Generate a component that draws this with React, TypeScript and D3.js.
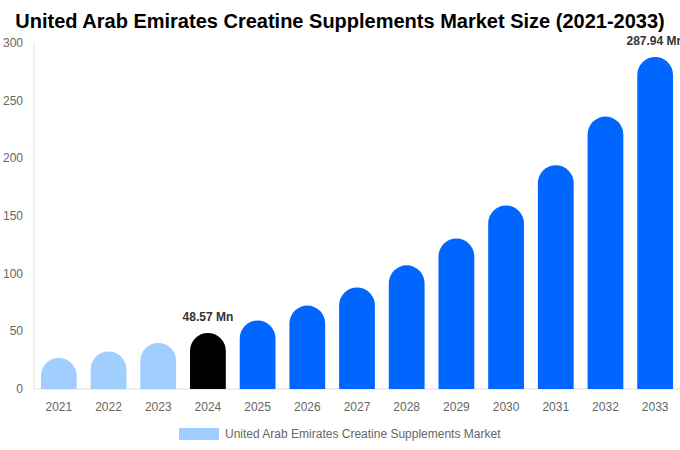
import { useEffect, useRef } from "react";
import * as d3 from "d3";

const years = ["2021", "2022", "2023", "2024", "2025", "2026", "2027", "2028", "2029", "2030", "2031", "2032", "2033"];
const marketSize = [26.9, 32.6, 39.9, 48.57, 59.4, 72.3, 88.0, 107.2, 130.5, 159.2, 194.0, 236.2, 287.94];
const yTicks = [0, 50, 100, 150, 200, 250, 300];
const labelled = ["2024", "2033"];

const title = "United Arab Emirates Creatine Supplements Market Size (2021-2033)";
const seriesName = "United Arab Emirates Creatine Supplements Market";

const barColor = (year: string) => {
  if (+year < 2024) return "#a0cfff";
  if (year === "2024") return "#000000";
  return "#0066ff";
};

export default function App() {
  const ref = useRef<SVGSVGElement | null>(null);

  useEffect(() => {
    const width = 680;
    const height = 450;
    const margin = { top: 43, right: 0, bottom: 61, left: 34 };
    const font = "'Liberation Sans', Arial, sans-serif";

    const svg = d3.select(ref.current);
    svg.selectAll("*").remove();

    const x = d3
      .scaleBand<string>()
      .domain(years)
      .range([margin.left, width - margin.right])
      .paddingInner(0.28)
      .paddingOuter(0.14);

    const y = d3
      .scaleLinear()
      .domain([0, 300])
      .range([height - margin.bottom, margin.top]);

    svg
      .append("text")
      .attr("x", width / 2)
      .attr("y", 28)
      .attr("text-anchor", "middle")
      .attr("font-family", font)
      .attr("font-size", 20)
      .attr("font-weight", "bold")
      .attr("fill", "#000")
      .text(title);

    // axis lines
    svg
      .append("line")
      .attr("x1", margin.left)
      .attr("x2", margin.left)
      .attr("y1", margin.top)
      .attr("y2", y(0))
      .attr("stroke", "#e0e0e0");
    svg
      .append("line")
      .attr("x1", margin.left)
      .attr("x2", width)
      .attr("y1", y(0))
      .attr("y2", y(0))
      .attr("stroke", "#e0e0e0");

    svg
      .append("g")
      .selectAll("text")
      .data(yTicks)
      .join("text")
      .attr("x", 23)
      .attr("y", (d) => y(d) + 4)
      .attr("text-anchor", "end")
      .attr("font-family", font)
      .attr("font-size", 12)
      .attr("fill", "#666")
      .text((d) => d);

    svg
      .append("g")
      .selectAll("text")
      .data(years)
      .join("text")
      .attr("x", (d) => x(d)! + x.bandwidth() / 2)
      .attr("y", y(0) + 22)
      .attr("text-anchor", "middle")
      .attr("font-family", font)
      .attr("font-size", 12)
      .attr("fill", "#666")
      .text((d) => d);

    const bw = x.bandwidth();
    const r = bw / 2;
    const rows = years.map((year, i) => ({ year, value: marketSize[i] }));

    svg
      .append("g")
      .selectAll("path")
      .data(rows)
      .join("path")
      .attr("fill", (d) => barColor(d.year))
      .attr("d", (d) => {
        const x0 = x(d.year)!;
        const top = y(d.value);
        const bottom = y(0);
        const rr = Math.min(r, bottom - top);
        return `M${x0},${bottom}V${top + rr}A${rr},${rr} 0 0 1 ${x0 + rr},${top}H${x0 + bw - rr}A${rr},${rr} 0 0 1 ${x0 + bw},${top + rr}V${bottom}Z`;
      });

    svg
      .append("g")
      .selectAll("text")
      .data(rows.filter((d) => labelled.includes(d.year)))
      .join("text")
      .attr("x", (d) => x(d.year)! + bw / 2)
      .attr("y", (d) => y(d.value) - 12)
      .attr("text-anchor", "middle")
      .attr("font-family", font)
      .attr("font-size", 12)
      .attr("font-weight", "bold")
      .attr("fill", "#333")
      .text((d) => `${d.value} Mn`);

    const legend = svg.append("g");
    legend
      .append("rect")
      .attr("x", 179)
      .attr("y", 428)
      .attr("width", 40)
      .attr("height", 12)
      .attr("fill", "#a0cfff");
    legend
      .append("text")
      .attr("x", 225)
      .attr("y", 438)
      .attr("font-family", font)
      .attr("font-size", 12)
      .attr("fill", "#666")
      .text(seriesName);
  }, []);

  return (
    <svg
      ref={ref}
      width={680}
      height={450}
      style={{ position: "absolute", left: 0, top: 0, background: "#fff" }}
    />
  );
}
